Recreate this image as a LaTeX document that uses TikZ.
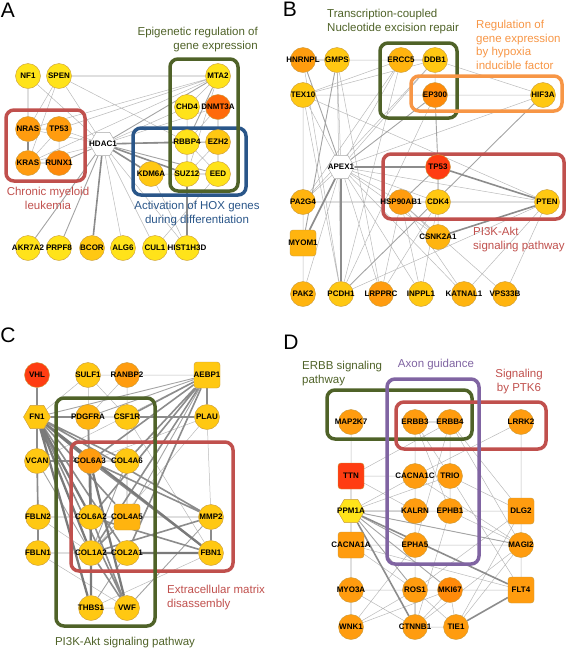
\documentclass[tikz,border=0pt]{standalone}
\usepackage{fontspec}
\setmainfont{Liberation Sans}
\usetikzlibrary{shapes.geometric}
\definecolor{cyel}{HTML}{FFE31A}
\definecolor{cgold}{HTML}{FFC812}
\definecolor{camb}{HTML}{FFB40F}
\definecolor{cora}{HTML}{FF9C0F}
\definecolor{cdor}{HTML}{FF8A0A}
\definecolor{cred}{HTML}{FF6A0A}
\definecolor{cscar}{HTML}{FF3D12}
\definecolor{nbrd}{HTML}{C89A3C}
\definecolor{bgreen}{HTML}{4F6228}
\definecolor{bred}{HTML}{C0504D}
\definecolor{bblue}{HTML}{2A5689}
\definecolor{borange}{HTML}{F79646}
\definecolor{bpurple}{HTML}{8064A2}
\pgfdeclarelayer{edgelayer}
\pgfdeclarelayer{boxlayer}
\pgfsetlayers{edgelayer,boxlayer,main}
\newcommand{\gn}[1]{\makebox[0pt]{#1}}
\tikzset{
  gene/.style={circle, draw=nbrd, line width=0.4pt, minimum size=25pt, inner sep=0pt,
    font=\fontsize{8}{9}\selectfont\bfseries},
  sqgene/.style={gene, rectangle, rounded corners=3pt, minimum size=26pt},
  hxgene/.style={gene, regular polygon, regular polygon sides=6, minimum size=27pt},
  e1/.style={draw=black!27, line width=0.5pt},
  e2/.style={draw=black!36, line width=0.9pt},
  e3/.style={draw=black!45, line width=1.6pt},
  e4/.style={draw=black!52, line width=2.3pt},
  pbox/.style={line width=3.5pt, rounded corners=8pt},
  ttl/.style={font=\fontsize{11.5}{13.5}\selectfont, inner sep=0pt},
  plet/.style={font=\fontsize{21}{21}\selectfont, inner sep=0pt}
}
\begin{document}
\begin{tikzpicture}[x=1pt, y=-1pt]
\useasboundingbox (0,0) rectangle (569,649);
\node[plet] (pa) at (8,10) {A};
\node[plet] (pb) at (290,9) {B};
\node[plet] (pc) at (8,335) {C};
\node[plet] (pd) at (291,342) {D};

\node[gene, fill=cyel] (anf1) at (28,76) {\gn{NF1}};
\node[gene, fill=cyel] (aspen) at (59,76) {\gn{SPEN}};
\node[gene, fill=cyel] (amta2) at (218,76) {\gn{MTA2}};
\node[gene, fill=cyel] (achd4) at (187,107) {\gn{CHD4}};
\node[gene, fill=cred] (adnmt3a) at (218,107) {\gn{DNMT3A}};
\node[gene, fill=cora] (anras) at (28,129) {\gn{NRAS}};
\node[gene, fill=cora] (atp53) at (59,129) {\gn{TP53}};
\node[hxgene, fill=white, draw=black!35] (ahdac1) at (103,144) {\gn{HDAC1}};
\node[gene, fill=cyel] (arbbp4) at (187,142) {\gn{RBBP4}};
\node[gene, fill=cgold] (aezh2) at (218,142) {\gn{EZH2}};
\node[gene, fill=cora] (akras) at (28,163) {\gn{KRAS}};
\node[gene, fill=cdor] (arunx1) at (59,163) {\gn{RUNX1}};
\node[gene, fill=cgold] (akdm6a) at (151,174) {\gn{KDM6A}};
\node[gene, fill=cyel] (asuz12) at (187,174) {\gn{SUZ12}};
\node[gene, fill=cyel] (aeed) at (218,174) {\gn{EED}};
\node[gene, fill=cyel] (aakr7a2) at (28,248) {\gn{AKR7A2}};
\node[gene, fill=cyel] (aprpf8) at (59,248) {\gn{PRPF8}};
\node[gene, fill=cgold] (abcor) at (92,248) {\gn{BCOR}};
\node[gene, fill=cyel] (aalg6) at (123,248) {\gn{ALG6}};
\node[gene, fill=cyel] (acul1) at (155,248) {\gn{CUL1}};
\node[gene, fill=cyel] (ahist) at (187,248) {\gn{HIST1H3D}};

\node[gene, fill=cora] (bhnrnpl) at (303,60) {\gn{HNRNPL}};
\node[gene, fill=cgold] (bgmps) at (337,60) {\gn{GMPS}};
\node[gene, fill=camb] (bercc5) at (401,60) {\gn{ERCC5}};
\node[gene, fill=cgold] (bddb1) at (435,60) {\gn{DDB1}};
\node[gene, fill=cgold] (btex10) at (303,95) {\gn{TEX10}};
\node[gene, fill=cdor] (bep300) at (435,95) {\gn{EP300}};
\node[gene, fill=cgold] (bhif3a) at (543,95) {\gn{HIF3A}};
\node[hxgene, fill=white, draw=black!35] (bapex1) at (341,167) {\gn{APEX1}};
\node[gene, fill=cscar] (btp53) at (438,167) {\gn{TP53}};
\node[gene, fill=camb] (bpa2g4) at (303,202) {\gn{PA2G4}};
\node[gene, fill=cora] (bhsp) at (401,202) {\gn{HSP90AB1}};
\node[gene, fill=cgold] (bcdk4) at (438,202) {\gn{CDK4}};
\node[gene, fill=cgold] (bpten) at (547,202) {\gn{PTEN}};
\node[sqgene, fill=camb] (bmyom1) at (303,243) {\gn{MYOM1}};
\node[gene, fill=camb] (bcsnk) at (438,237) {\gn{CSNK2A1}};
\node[gene, fill=camb] (bpak2) at (303,294) {\gn{PAK2}};
\node[gene, fill=cgold] (bpcdh1) at (341,294) {\gn{PCDH1}};
\node[gene, fill=cora] (blrpprc) at (381,294) {\gn{LRPPRC}};
\node[gene, fill=cgold] (binppl1) at (421,294) {\gn{INPPL1}};
\node[gene, fill=camb] (bkatnal1) at (464,294) {\gn{KATNAL1}};
\node[gene, fill=camb] (bvps33b) at (505,294) {\gn{VPS33B}};

\node[gene, fill=cscar] (cvhl) at (37,375) {\gn{VHL}};
\node[gene, fill=cgold] (csulf1) at (88,375) {\gn{SULF1}};
\node[gene, fill=cora] (cranbp2) at (127,375) {\gn{RANBP2}};
\node[sqgene, fill=cgold] (caebp1) at (207,375) {\gn{AEBP1}};
\node[hxgene, fill=cgold] (cfn1) at (37,417) {\gn{FN1}};
\node[gene, fill=camb] (cpdgfra) at (88,417) {\gn{PDGFRA}};
\node[gene, fill=cgold] (ccsf1r) at (127,417) {\gn{CSF1R}};
\node[gene, fill=cgold] (cplau) at (207,417) {\gn{PLAU}};
\node[gene, fill=cgold] (cvcan) at (37,461) {\gn{VCAN}};
\node[gene, fill=cora] (ccol6a3) at (90,461) {\gn{COL6A3}};
\node[gene, fill=cgold] (ccol4a6) at (127,461) {\gn{COL4A6}};
\node[gene, fill=cgold] (cfbln2) at (38,517) {\gn{FBLN2}};
\node[gene, fill=cgold] (ccol6a2) at (91,517) {\gn{COL6A2}};
\node[sqgene, fill=camb] (ccol4a5) at (127,517) {\gn{COL4A5}};
\node[gene, fill=cgold] (cmmp2) at (211,517) {\gn{MMP2}};
\node[gene, fill=cgold] (cfbln1) at (38,553) {\gn{FBLN1}};
\node[gene, fill=cgold] (ccol1a2) at (91,553) {\gn{COL1A2}};
\node[gene, fill=cgold] (ccol2a1) at (127,553) {\gn{COL2A1}};
\node[gene, fill=cgold] (cfbn1) at (211,553) {\gn{FBN1}};
\node[gene, fill=cgold] (cthbs1) at (91,608) {\gn{THBS1}};
\node[gene, fill=cgold] (cvwf) at (127,608) {\gn{VWF}};

\node[gene, fill=cora] (dmap2k7) at (351,422) {\gn{MAP2K7}};
\node[gene, fill=cora] (derbb3) at (415,422) {\gn{ERBB3}};
\node[gene, fill=cora] (derbb4) at (450,422) {\gn{ERBB4}};
\node[gene, fill=cora] (dlrrk2) at (521,422) {\gn{LRRK2}};
\node[sqgene, fill=cscar] (dttn) at (351,476) {\gn{TTN}};
\node[gene, fill=cora] (dcacna1c) at (415,476) {\gn{CACNA1C}};
\node[gene, fill=cora] (dtrio) at (450,476) {\gn{TRIO}};
\node[hxgene, fill=cyel] (dppm1a) at (351,511) {\gn{PPM1A}};
\node[gene, fill=cora] (dkalrn) at (415,511) {\gn{KALRN}};
\node[gene, fill=cora] (dephb1) at (450,511) {\gn{EPHB1}};
\node[sqgene, fill=cora] (ddlg2) at (521,511) {\gn{DLG2}};
\node[sqgene, fill=cora] (dcacna1a) at (351,545) {\gn{CACNA1A}};
\node[gene, fill=cora] (depha5) at (415,545) {\gn{EPHA5}};
\node[gene, fill=cora] (dmagi2) at (521,545) {\gn{MAGI2}};
\node[gene, fill=cora] (dmyo3a) at (351,590) {\gn{MYO3A}};
\node[gene, fill=cora] (dros1) at (415,590) {\gn{ROS1}};
\node[gene, fill=cdor] (dmki67) at (450,590) {\gn{MKI67}};
\node[sqgene, fill=cora] (dflt4) at (521,590) {\gn{FLT4}};
\node[gene, fill=cora] (dwnk1) at (351,627) {\gn{WNK1}};
\node[gene, fill=cora] (dctnnb1) at (415,627) {\gn{CTNNB1}};
\node[gene, fill=cora] (dtie1) at (456,627) {\gn{TIE1}};

\node[ttl, text=bgreen, align=right, anchor=north east] (tepi) at (258,27) {Epigenetic regulation of\\gene expression};
\node[ttl, text=bred, align=center, anchor=north] (tcml) at (48,187) {Chronic myeloid\\leukemia};
\node[ttl, text=bblue, align=center, anchor=north] (thox) at (197,201) {Activation of HOX genes\\during differentiation};
\node[ttl, text=bgreen, align=left, anchor=north west] (tner) at (327,9) {Transcription-coupled\\Nucleotide excision repair};
\node[ttl, text=borange, align=left, anchor=north west] (thyp) at (476,20) {Regulation of\\gene expression\\by hypoxia\\inducible factor};
\node[ttl, text=bred, align=left, anchor=north west] (tpiB) at (473,227) {PI3K-Akt\\signaling pathway};
\node[ttl, text=bred, align=left, anchor=north west] (tecm) at (167,585) {Extracellular matrix\\disassembly};
\node[ttl, text=bgreen, anchor=north] (tpiC) at (125,637) {PI3K-Akt signaling pathway};
\node[ttl, text=bgreen, align=left, anchor=north west] (terbb) at (302,361) {ERBB signaling\\pathway};
\node[ttl, text=bpurple, anchor=north] (taxon) at (436,359) {Axon guidance};
\node[ttl, text=bred, align=center, anchor=north] (tptk) at (519,369) {Signaling\\by PTK6};

\begin{pgfonlayer}{boxlayer}
\draw[pbox, bred] (6,110) rectangle (85,181);
\draw[pbox, bblue] (133,128) rectangle (246,195);
\draw[pbox, bgreen] (170,59) rectangle (238,191);
\draw[pbox, bgreen] (380,43) rectangle (457,118);
\draw[pbox, borange] (411,76) rectangle (562,111);
\draw[pbox, bred] (383,154) rectangle (564,219);
\draw[pbox, bred] (71,442) rectangle (233,571);
\draw[pbox, bgreen] (56,398) rectangle (155,626);
\draw[pbox, bgreen] (327,390) rectangle (472,439);
\draw[pbox, bred] (396,402) rectangle (546,449);
\draw[pbox, bpurple] (387,379) rectangle (479,564);
\end{pgfonlayer}

\begin{pgfonlayer}{edgelayer}
\draw[e1] (anf1) -- (ahdac1) (aspen) -- (anras) (aspen) -- (akras) (aspen) -- (ahdac1)
  (aspen) -- (arbbp4) (amta2) -- (atp53) (amta2) -- (anras) (amta2) -- (akras)
  (amta2) -- (achd4) (amta2) -- (asuz12) (achd4) -- (ahdac1) (achd4) -- (arbbp4)
  (adnmt3a) -- (ahdac1) (adnmt3a) -- (arbbp4) (ahdac1) -- (atp53) (ahdac1) -- (anras)
  (ahdac1) -- (akras) (ahdac1) -- (aalg6) (ahdac1) -- (acul1) (ahdac1) -- (ahist)
  (atp53) -- (akras) (atp53) -- (arunx1) (arbbp4) -- (aeed) (aezh2) -- (asuz12)
  (acul1) -- (aeed) (ahist) -- (akdm6a) (anras) -- (atp53) (akdm6a) -- (asuz12);
\draw[e2] (aspen) -- (amta2) (anf1) -- (anras) (amta2) -- (ahdac1) (amta2) -- (arbbp4)
  (adnmt3a) -- (aezh2) (ahdac1) -- (aezh2) (ahdac1) -- (aeed) (ahdac1) -- (arunx1)
  (ahdac1) -- (aakr7a2) (ahdac1) -- (aprpf8) (akras) -- (arunx1) (arbbp4) -- (aezh2)
  (arbbp4) -- (asuz12) (aezh2) -- (aeed) (asuz12) -- (aeed);
\draw[e3] (ahdac1) -- (arbbp4) (ahdac1) -- (abcor) (asuz12) -- (ahist) (ahdac1) -- (asuz12)
  (ahdac1) -- (akdm6a) (anras) -- (akras);

\draw[e1] (bapex1) -- (bgmps) (bapex1) -- (btex10) (bapex1) -- (bercc5)
  (bapex1) -- (bddb1) (bapex1) -- (bhsp) (bapex1) -- (bcdk4) (bapex1) -- (bpten)
  (bapex1) -- (bpa2g4) (bapex1) -- (bcsnk) (bapex1) -- (bpak2) (bapex1) -- (blrpprc)
  (bapex1) -- (binppl1) (bapex1) -- (bkatnal1) (bapex1) -- (bhif3a) (btp53) -- (bcsnk)
  (bcsnk) -- (bhsp) (bcsnk) -- (bcdk4) (bpten) -- (bvps33b)
  (bpten) -- (bkatnal1) (bpten) -- (btex10) (bhif3a) -- (btex10) (bhif3a) -- (bddb1)
  (bercc5) -- (bgmps) (bddb1) -- (bep300) (btex10) -- (bercc5)
  (btex10) -- (bddb1) (bpa2g4) -- (bpak2) (btex10) -- (bpcdh1) (bgmps) -- (bpcdh1)
  (bgmps) -- (blrpprc) (binppl1) -- (bhsp) (bkatnal1) -- (bhsp) (blrpprc) -- (bhsp)
  (bhnrnpl) -- (bpcdh1) (btex10) -- (bpa2g4) (bercc5) -- (bpa2g4) (bercc5) -- (bpcdh1)
  (bddb1) -- (bpa2g4) (bep300) -- (bpcdh1) (bhsp) -- (bvps33b) (bcdk4) -- (blrpprc)
  (btex10) -- (bmyom1) (bpten) -- (bpcdh1) (bcdk4) -- (binppl1);
\draw[e2] (bapex1) -- (bep300) (bapex1) -- (bhnrnpl) (btp53) -- (bcdk4) (btp53) -- (bhsp)
  (btp53) -- (bep300) (bhsp) -- (bcdk4) (bcdk4) -- (bpten) (bpcdh1) -- (bhif3a)
  (bercc5) -- (bddb1) (bgmps) -- (bmyom1) (bpa2g4) -- (bhsp) (bgmps) -- (bhnrnpl);
\draw[e3] (bapex1) -- (btp53) (bapex1) -- (bpcdh1) (btp53) -- (bpten) (bcsnk) -- (bpten)
  (bapex1) -- (bmyom1);

\draw[e1] (cfn1) -- (csulf1) (caebp1) -- (csulf1) (caebp1) -- (cvcan)
  (csulf1) -- (ccsf1r) (cranbp2) -- (cpdgfra) (cranbp2) -- (ccol4a6) (cplau) -- (ccol1a2)
  (cfbln1) -- (cvwf) (cthbs1) -- (cvwf) (csulf1) -- (ccol6a3) (cplau) -- (cmmp2)
  (cthbs1) -- (cfbn1) (cplau) -- (ccol6a3) (ccsf1r) -- (cfbn1) (cfbln2) -- (ccol1a2);
\draw[e2] (cfn1) -- (ccsf1r) (cfn1) -- (caebp1) (caebp1) -- (ccol4a5) (cmmp2) -- (ccol6a2)
  (cmmp2) -- (ccol4a5) (cfbln1) -- (ccol1a2) (cfbln2) -- (ccol6a2) (ccol4a6) -- (ccol1a2)
  (cvcan) -- (ccol1a2) (cvwf) -- (cmmp2) (caebp1) -- (cpdgfra) (cfn1) -- (cfbln2)
  (cfn1) -- (cfbln1) (ccol6a3) -- (ccol4a6) (ccol4a6) -- (ccol4a5) (ccol2a1) -- (cthbs1);
\draw[e3] (cfn1) -- (cvhl) (cfn1) -- (cpdgfra) (cfn1) -- (cvcan) (cfn1) -- (ccol4a6)
  (cfn1) -- (ccol4a5) (cfn1) -- (cmmp2) (cfn1) -- (cvwf) (caebp1) -- (cplau)
  (caebp1) -- (ccol6a3) (caebp1) -- (ccol4a6) (caebp1) -- (ccsf1r) (caebp1) -- (ccol6a2)
  (caebp1) -- (ccol1a2) (caebp1) -- (ccol2a1) (ccsf1r) -- (cplau) (cmmp2) -- (cfbn1)
  (cmmp2) -- (ccol1a2) (cmmp2) -- (ccol6a3) (cfbn1) -- (ccol6a3) (cfbn1) -- (ccol6a2)
  (cvcan) -- (ccol6a3) (cvcan) -- (cfbln2) (cfbln2) -- (cfbln1) (ccol6a3) -- (ccol6a2)
  (ccol6a2) -- (ccol1a2) (ccol4a5) -- (ccol1a2) (ccol1a2) -- (ccol2a1) (ccol1a2) -- (cvwf)
  (ccol6a2) -- (cvwf) (cpdgfra) -- (ccol1a2) (cfn1) -- (ccol2a1);
\draw[e4] (cfn1) -- (ccol1a2) (cfn1) -- (ccol6a3) (cfn1) -- (ccol6a2) (cfn1) -- (cfbn1)
  (cfn1) -- (cthbs1) (ccol6a3) -- (ccol1a2) (ccol1a2) -- (cthbs1) (ccol6a3) -- (cvwf)
  (cfbn1) -- (ccol1a2);

\draw[e1] (dmap2k7) -- (dttn) (dppm1a) -- (dephb1) (dppm1a) -- (ddlg2)
  (dppm1a) -- (dcacna1c) (dppm1a) -- (dtrio) (derbb3) -- (dcacna1c)
  (derbb3) -- (dtrio) (derbb3) -- (dephb1) (derbb3) -- (dkalrn) (derbb4) -- (dtrio)
  (derbb4) -- (dephb1) (derbb4) -- (dmagi2) (derbb4) -- (ddlg2) (derbb4) -- (depha5)
  (derbb4) -- (dttn) (dlrrk2) -- (ddlg2) (dlrrk2) -- (dcacna1c) (dcacna1c) -- (dtrio)
  (dtrio) -- (dephb1) (dkalrn) -- (dephb1) (dkalrn) -- (depha5) (depha5) -- (dmagi2)
  (dkalrn) -- (ddlg2) (dephb1) -- (dmagi2) (depha5) -- (dros1) (depha5) -- (dctnnb1)
  (dros1) -- (dmki67) (dmki67) -- (dctnnb1) (dmki67) -- (dtie1) (dros1) -- (dtie1)
  (dctnnb1) -- (dtie1) (dmki67) -- (dflt4) (dros1) -- (dflt4) (dflt4) -- (dmagi2)
  (dmagi2) -- (ddlg2) (dmagi2) -- (dctnnb1) (ddlg2) -- (dros1) (dmyo3a) -- (dctnnb1)
  (dwnk1) -- (dros1) (dwnk1) -- (dmki67) (dwnk1) -- (depha5) (dmyo3a) -- (dros1)
  (dcacna1a) -- (depha5) (dcacna1a) -- (dros1) (dcacna1a) -- (dflt4) (dttn) -- (dkalrn)
  (dttn) -- (dcacna1c) (dmagi2) -- (dtie1) (ddlg2) -- (dtie1) (dtrio) -- (dflt4)
  (dephb1) -- (dctnnb1) (dcacna1c) -- (dmagi2) (dtrio) -- (ddlg2);
\draw[e2] (dttn) -- (dppm1a) (dppm1a) -- (dcacna1a) (dcacna1a) -- (dmyo3a) (dmyo3a) -- (dwnk1)
  (dppm1a) -- (dkalrn) (dppm1a) -- (depha5) (dppm1a) -- (dmki67) (dppm1a) -- (dros1)
  (dppm1a) -- (dmagi2) (derbb3) -- (derbb4) (dros1) -- (dctnnb1);
\draw[e3] (dppm1a) -- (dctnnb1) (dtie1) -- (dflt4) (dppm1a) -- (dflt4);
\end{pgfonlayer}
\end{tikzpicture}
\end{document}
